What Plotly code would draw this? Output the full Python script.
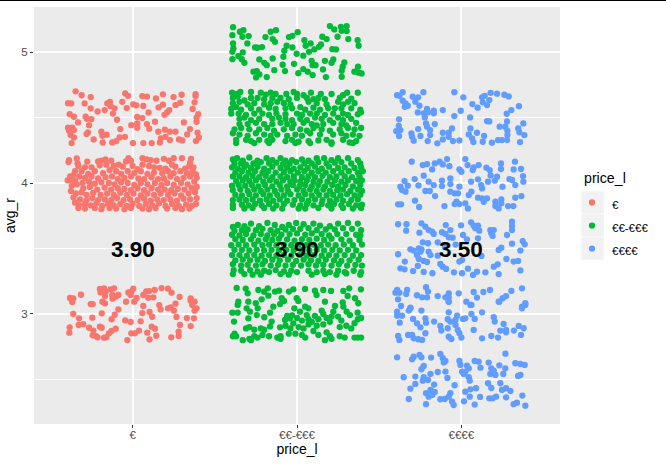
import plotly.graph_objects as go

# Jittered restaurant ratings, as (price level position, average rating) pairs, per rating band.
budget_50 = [(.653,4.70),(.69,4.67),(.745,4.656),(.607,4.61),(.627,4.608),(.708,4.608),(.745,4.57),(.787,4.547),(.83,4.557),(.846,4.608),(.862,4.62),(.866,4.587),(.88,4.53),(.89,4.57),(.937,4.62),(.955,4.684),(.972,4.666),(.964,4.572),(1.004,4.6),(1.022,4.593),(1.059,4.664),(1.087,4.659),(1.065,4.588),(1.097,4.539),(1.142,4.646),(1.184,4.677),(1.249,4.656),(1.298,4.674),(1.383,4.679),(1.383,4.664),(1.377,4.616),(1.29,4.613),(1.261,4.595),(1.184,4.598),(1.158,4.577),(1.223,4.557),(1.21,4.539),(1.194,4.521),(1.365,4.565),(1.399,4.526),(1.389,4.5),(1.389,4.468),(1.312,4.463),(1.136,4.468),(1.059,4.496),(1.028,4.504),(.992,4.442),(1.028,4.455),(1.028,4.422),(1.087,4.45),(1.101,4.415),(.905,4.483),(.617,4.526),(.643,4.506),(.668,4.463),(.714,4.506),(.749,4.488),(.722,4.49),(.735,4.442),(.607,4.422),(.633,4.422),(.613,4.399),(.643,4.404),(.623,4.366),(.643,4.348),(.629,4.305),(.72,4.374),(.728,4.386),(.763,4.333),(.81,4.392),(.842,4.369),(.816,4.36),(.818,4.31),(.876,4.31),(.9,4.32),(.921,4.348),(.953,4.353),(.925,4.412),(1.002,4.305),(1.065,4.305),(1.116,4.305),(1.166,4.31),(1.172,4.341),(1.156,4.392),(1.196,4.407),(1.227,4.392),(1.261,4.392),(1.2,4.353),(1.227,4.328),(1.282,4.333),(1.302,4.325),(1.332,4.371),(1.349,4.412),(1.395,4.384),(1.403,4.348),(1.385,4.32)]
budget_40 = [(.613,4.175),(.61,4.16),(.66,4.188),(.665,4.15),(.724,4.163),(.79,4.165),(.81,4.17),(.835,4.18),(.87,4.17),(.96,4.165),(.975,4.19),(.99,4.17),(1.06,4.19),(1.085,4.18),(1.11,4.175),(1.145,4.17),(1.19,4.185),(1.22,4.17),(1.25,4.19),(1.3,4.19),(1.355,4.185),(1.35,4.155),(.67,4.13),(.71,4.12),(.75,4.12),(.8,4.135),(.84,4.14),(.885,4.13),(.915,4.14),(.94,4.125),(1.0,4.13),(1.03,4.105),(1.06,4.14),(1.1,4.13),(1.13,4.12),(1.165,4.115),(1.2,4.11),(1.24,4.14),(1.26,4.125),(1.32,4.11),(1.345,4.13),(1.37,4.12),(.65,4.09),(.69,4.09),(.73,4.07),(.77,4.09),(.82,4.075),(.86,4.1),(.9,4.09),(.93,4.07),(.97,4.09),(1.01,4.075),(1.05,4.09),(1.09,4.07),(1.13,4.08),(1.18,4.075),(1.215,4.09),(1.25,4.075),(1.29,4.09),(1.33,4.075),(1.365,4.09),(1.385,4.065),(.62,4.05),(.64,4.06),(.675,4.05),(.71,4.04),(.75,4.05),(.79,4.035),(.835,4.045),(.875,4.05),(.91,4.03),(.95,4.04),(.99,4.05),(1.035,4.035),(1.07,4.03),(1.115,4.045),(1.155,4.03),(1.19,4.035),(1.23,4.05),(1.27,4.03),(1.31,4.04),(1.35,4.05),(1.39,4.04),(.605,4.02),(.625,4.025),(.65,4.015),(.695,4.0),(.735,4.01),(.77,3.995),(.81,4.005),(.855,4.0),(.89,3.99),(.93,4.005),(.97,4.0),(1.01,3.985),(1.05,4.0),(1.09,3.99),(1.135,4.0),(1.175,3.985),(1.21,4.0),(1.25,3.985),(1.295,4.0),(1.335,3.99),(1.375,4.01),(.63,3.98),(.66,3.99),(.7,3.96),(.74,3.97),(.785,3.95),(.83,3.965),(.87,3.95),(.91,3.96),(.95,3.955),(.99,3.945),(1.03,3.96),(1.07,3.945),(1.115,3.96),(1.155,3.95),(1.195,3.95),(1.235,3.945),(1.275,3.955),(1.315,3.95),(1.36,3.96),(1.39,3.97),(.625,3.94),(.655,3.92),(.69,3.93),(.72,3.91),(.76,3.925),(.805,3.91),(.845,3.92),(.885,3.91),(.925,3.925),(.965,3.91),(1.005,3.92),(1.05,3.905),(1.09,3.92),(1.13,3.91),(1.17,3.92),(1.215,3.91),(1.255,3.92),(1.295,3.905),(1.34,3.92),(1.38,3.93),(.64,3.89),(.68,3.875),(.72,3.87),(.755,3.885),(.79,3.87),(.83,3.875),(.87,3.87),(.905,3.885),(.945,3.87),(.985,3.875),(1.03,3.87),(1.07,3.88),(1.11,3.865),(1.15,3.875),(1.19,3.87),(1.23,3.875),(1.27,3.865),(1.31,3.88),(1.35,3.875),(1.39,3.885),(.65,3.85),(.675,3.83),(.71,3.84),(.745,3.83),(.78,3.845),(.815,3.825),(.85,3.84),(.885,3.83),(.925,3.84),(.965,3.825),(1.0,3.84),(1.04,3.825),(1.08,3.84),(1.12,3.83),(1.16,3.845),(1.2,3.825),(1.24,3.84),(1.28,3.825),(1.325,3.835),(1.36,3.825),(1.385,3.84),(.67,3.81),(.71,3.805),(.77,3.81),(.81,3.80),(.86,3.81),(.9,3.805),(.95,3.80),(.99,3.81),(1.06,3.805),(1.1,3.80),(1.14,3.81),(1.21,3.805),(1.26,3.81),(1.3,3.80),(1.345,3.805)]
budget_30 = [(.619,3.122),(.639,3.119),(.633,3.091),(.686,3.147),(.745,3.076),(.757,3.076),(.816,3.094),(.832,3.081),(.801,3.191),(.826,3.196),(.805,3.165),(.836,3.17),(.832,3.137),(.866,3.188),(.887,3.196),(.876,3.145),(.878,3.117),(.913,3.145),(.897,3.132),(.974,3.165),(1.004,3.193),(.992,3.17),(.988,3.145),(1.024,3.122),(.96,3.094),(1.01,3.094),(1.065,3.145),(1.083,3.173),(1.101,3.175),(1.134,3.183),(1.176,3.198),(1.215,3.193),(1.237,3.163),(1.095,3.124),(1.126,3.127),(1.286,3.13),(1.261,3.079),(1.353,3.119),(1.353,3.102),(1.377,3.094),(1.363,3.068),(1.389,3.043),(1.377,3.025),(1.162,3.068),(1.17,3.035),(1.215,3.043),(1.231,3.051),(1.251,3.025),(1.065,3.061),(1.059,3.007),(1.103,3.015),(1.119,2.979),(1.267,2.977),(1.33,2.969),(1.373,2.967),(1.288,2.916),(1.353,2.908),(.913,3.035),(.891,2.995),(.872,2.959),(.812,3.005),(.755,2.972),(.639,3.0),(.674,2.967),(.672,2.916),(.7,2.923),(.617,2.898),(.615,2.857),(.735,2.895),(.801,2.903),(.812,2.895),(.761,2.873),(.757,2.837),(.775,2.832),(.787,2.822),(.826,2.819),(.84,2.822),(.856,2.852),(.872,2.87),(.897,2.888),(.955,2.951),(.988,2.939),(1.049,2.944),(1.116,2.903),(1.136,2.888),(1.039,2.873),(1.014,2.852),(.992,2.852),(.968,2.801),(1.089,2.857),(1.103,2.806),(1.144,2.834),(1.235,2.822),(1.28,2.865),(1.28,2.832)]

mid_50 = [(1.611,5.19),(1.674,5.167),(1.653,5.155),(1.668,5.117),(1.706,5.122),(1.607,5.129),(1.611,5.066),(1.698,5.066),(1.613,5.028),(1.607,5.002),(1.67,4.997),(1.643,4.969),(1.607,4.946),(1.664,4.946),(1.68,4.918),(1.745,5.035),(1.759,5.033),(1.787,5.038),(1.808,5.114),(1.84,5.155),(1.872,5.167),(1.852,5.099),(1.866,5.078),(1.951,5.114),(1.972,5.124),(2.004,5.152),(1.937,5.048),(1.972,5.035),(1.923,5.01),(1.917,4.964),(1.771,4.944),(1.801,4.918),(1.816,4.9),(1.852,4.951),(1.862,4.862),(1.735,4.85),(1.755,4.855),(1.771,4.829),(1.751,4.806),(1.816,4.809),(1.913,4.903),(1.927,4.855),(1.982,4.91),(1.998,4.987),(2.038,4.972),(2.073,5.002),(2.105,5.02),(2.045,5.091),(2.083,5.066),(2.053,5.048),(2.134,5.04),(2.146,5.058),(2.154,5.117),(2.18,5.099),(2.2,5.198),(2.227,5.173),(2.267,5.193),(2.302,5.198),(2.272,5.162),(2.302,5.16),(2.247,5.117),(2.312,5.099),(2.369,5.091),(2.375,5.048),(2.215,5.022),(2.237,5.02),(2.17,4.933),(2.221,4.944),(2.21,4.918),(2.089,4.933),(2.095,4.9),(2.113,4.9),(2.158,4.867),(2.008,4.839),(2.038,4.87),(2.065,4.85),(2.095,4.824),(2.176,4.809),(2.272,4.811),(2.272,4.857),(2.288,4.921),(2.278,4.888),(2.371,4.888),(2.349,4.85),(2.373,4.844),(2.393,4.837)]
mid_45 = [(1.605,4.69),(1.63,4.68),(1.655,4.695),(1.72,4.695),(1.78,4.69),(1.81,4.675),(1.84,4.69),(1.87,4.68),(1.935,4.68),(1.98,4.695),(2.0,4.68),(2.04,4.67),(2.085,4.69),(2.145,4.68),(2.21,4.68),(2.305,4.69),(2.37,4.69),(1.61,4.65),(1.64,4.66),(1.68,4.63),(1.72,4.65),(1.76,4.65),(1.8,4.64),(1.85,4.65),(1.9,4.65),(1.95,4.64),(2.0,4.65),(2.06,4.65),(2.1,4.64),(2.13,4.65),(2.17,4.64),(2.26,4.65),(2.28,4.67),(2.33,4.645),(1.61,4.61),(1.65,4.62),(1.7,4.6),(1.74,4.61),(1.8,4.6),(1.84,4.61),(1.88,4.62),(1.92,4.61),(1.96,4.6),(2.07,4.62),(2.12,4.61),(2.18,4.6),(2.25,4.62),(2.28,4.6),(2.31,4.62),(2.35,4.61),(1.6,4.565),(1.63,4.58),(1.66,4.56),(1.72,4.57),(1.77,4.56),(1.83,4.575),(1.87,4.565),(1.93,4.57),(1.97,4.57),(2.02,4.58),(2.05,4.56),(2.1,4.575),(2.14,4.56),(2.19,4.57),(2.23,4.57),(2.27,4.57),(2.33,4.57),(2.385,4.56),(1.6,4.53),(1.645,4.53),(1.69,4.52),(1.74,4.53),(1.79,4.53),(1.83,4.52),(1.875,4.53),(1.93,4.525),(2.0,4.53),(2.03,4.52),(2.08,4.53),(2.12,4.53),(2.17,4.52),(2.22,4.53),(2.28,4.53),(2.31,4.52),(2.37,4.525),(2.39,4.54),(1.65,4.49),(1.68,4.5),(1.72,4.48),(1.77,4.49),(1.85,4.49),(1.89,4.5),(1.93,4.49),(1.97,4.48),(2.02,4.49),(2.06,4.48),(2.11,4.5),(2.15,4.49),(2.2,4.48),(2.25,4.5),(2.28,4.48),(2.33,4.49),(1.65,4.45),(1.7,4.45),(1.75,4.46),(1.8,4.45),(1.85,4.45),(1.9,4.46),(1.94,4.45),(1.98,4.45),(2.04,4.46),(2.09,4.45),(2.12,4.44),(2.16,4.45),(2.22,4.46),(2.27,4.45),(2.3,4.44),(2.36,4.46),(1.62,4.41),(1.66,4.42),(1.71,4.41),(1.77,4.41),(1.82,4.42),(1.86,4.4),(1.92,4.41),(1.97,4.42),(2.02,4.41),(2.06,4.4),(2.1,4.42),(2.15,4.41),(2.2,4.4),(2.26,4.41),(2.31,4.42),(2.35,4.41),(2.39,4.42),(1.61,4.38),(1.65,4.37),(1.7,4.36),(1.75,4.38),(1.8,4.37),(1.84,4.36),(1.88,4.37),(1.94,4.36),(1.99,4.37),(2.03,4.36),(2.08,4.38),(2.14,4.37),(2.22,4.37),(2.27,4.38),(2.3,4.36),(2.34,4.37),(2.38,4.36),(1.63,4.33),(1.69,4.33),(1.72,4.32),(1.77,4.33),(1.82,4.32),(1.85,4.33),(1.93,4.32),(1.97,4.33),(2.01,4.315),(2.07,4.32),(2.13,4.325),(2.18,4.33),(2.21,4.31),(2.28,4.33),(2.32,4.31),(2.36,4.32),(1.63,4.305),(1.74,4.305),(1.83,4.305),(1.99,4.305),(2.08,4.305),(2.21,4.30),(2.34,4.305)]
mid_40 = [(1.61,4.18),(1.635,4.19),(1.67,4.17),(1.71,4.195),(1.76,4.17),(1.815,4.19),(1.85,4.175),(1.9,4.19),(1.93,4.17),(1.97,4.175),(2.03,4.18),(2.07,4.17),(2.12,4.19),(2.165,4.19),(2.21,4.175),(2.25,4.19),(2.31,4.19),(2.37,4.175),(1.62,4.15),(1.66,4.15),(1.69,4.14),(1.735,4.15),(1.78,4.16),(1.83,4.15),(1.875,4.155),(1.915,4.145),(1.955,4.15),(1.995,4.16),(2.045,4.15),(2.09,4.15),(2.13,4.16),(2.18,4.15),(2.23,4.155),(2.27,4.16),(2.33,4.15),(2.385,4.15),(1.605,4.12),(1.64,4.11),(1.68,4.12),(1.72,4.115),(1.76,4.125),(1.8,4.11),(1.85,4.125),(1.9,4.115),(1.94,4.12),(1.98,4.11),(2.02,4.12),(2.065,4.115),(2.11,4.125),(2.15,4.11),(2.195,4.125),(2.25,4.115),(2.29,4.12),(2.35,4.115),(2.39,4.12),(1.625,4.08),(1.665,4.09),(1.705,4.08),(1.745,4.09),(1.79,4.08),(1.825,4.09),(1.87,4.08),(1.92,4.085),(1.96,4.09),(2.005,4.08),(2.045,4.09),(2.09,4.08),(2.13,4.09),(2.175,4.08),(2.22,4.09),(2.27,4.08),(2.315,4.09),(2.37,4.08),(2.4,4.09),(1.61,4.05),(1.65,4.05),(1.69,4.045),(1.73,4.055),(1.77,4.045),(1.81,4.055),(1.85,4.045),(1.9,4.05),(1.94,4.045),(1.98,4.05),(2.03,4.045),(2.07,4.05),(2.11,4.045),(2.155,4.055),(2.2,4.045),(2.24,4.05),(2.29,4.05),(2.335,4.045),(2.38,4.05),(1.63,4.015),(1.67,4.02),(1.71,4.015),(1.75,4.02),(1.795,4.01),(1.835,4.02),(1.875,4.01),(1.915,4.02),(1.96,4.01),(1.985,4.02),(2.02,4.01),(2.06,4.02),(2.1,4.01),(2.14,4.015),(2.185,4.01),(2.23,4.02),(2.27,4.01),(2.31,4.02),(2.36,4.015),(2.395,4.02),(1.605,3.98),(1.645,3.985),(1.685,3.98),(1.725,3.985),(1.765,3.975),(1.805,3.985),(1.85,3.975),(1.895,3.985),(1.94,3.975),(1.975,3.985),(2.015,3.975),(2.05,3.985),(2.09,3.975),(2.13,3.985),(2.17,3.975),(2.215,3.985),(2.25,3.975),(2.295,3.985),(2.34,3.975),(2.385,3.985),(1.61,3.945),(1.655,3.95),(1.7,3.94),(1.74,3.95),(1.78,3.94),(1.82,3.95),(1.865,3.94),(1.905,3.95),(1.945,3.94),(2.0,3.95),(2.04,3.94),(2.08,3.95),(2.12,3.94),(2.16,3.95),(2.2,3.94),(2.245,3.945),(2.28,3.95),(2.325,3.94),(2.37,3.95),(2.395,3.94),(1.625,3.91),(1.665,3.905),(1.71,3.915),(1.75,3.905),(1.795,3.915),(1.835,3.905),(1.88,3.91),(1.92,3.905),(1.96,3.915),(2.01,3.905),(2.05,3.915),(2.09,3.905),(2.135,3.91),(2.18,3.905),(2.22,3.91),(2.265,3.905),(2.305,3.915),(2.35,3.905),(2.385,3.91),(1.61,3.87),(1.65,3.875),(1.69,3.87),(1.73,3.875),(1.775,3.865),(1.815,3.875),(1.855,3.865),(1.895,3.875),(1.94,3.865),(1.985,3.87),(2.03,3.875),(2.07,3.865),(2.11,3.875),(2.155,3.87),(2.2,3.865),(2.24,3.875),(2.28,3.865),(2.33,3.87),(2.37,3.875),(1.61,3.835),(1.665,3.835),(1.705,3.83),(1.745,3.84),(1.785,3.83),(1.83,3.84),(1.875,3.83),(1.92,3.84),(1.975,3.835),(2.02,3.83),(2.06,3.84),(2.1,3.83),(2.15,3.84),(2.19,3.83),(2.225,3.84),(2.27,3.83),(2.315,3.84),(2.36,3.83),(2.395,3.835),(1.61,3.81),(1.68,3.805),(1.73,3.81),(1.8,3.81),(1.855,3.805),(1.91,3.805),(2.01,3.805),(2.05,3.805),(2.13,3.81),(2.21,3.805),(2.28,3.81),(2.34,3.805),(2.39,3.81)]
mid_35 = [(1.61,3.665),(1.64,3.68),(1.68,3.67),(1.72,3.69),(1.77,3.67),(1.82,3.695),(1.865,3.68),(1.91,3.665),(1.95,3.68),(1.995,3.695),(2.04,3.685),(2.1,3.69),(2.14,3.675),(2.2,3.67),(2.25,3.69),(2.31,3.695),(2.37,3.69),(1.62,3.635),(1.665,3.64),(1.7,3.645),(1.75,3.64),(1.79,3.65),(1.84,3.64),(1.88,3.635),(1.93,3.645),(1.975,3.65),(2.02,3.65),(2.07,3.655),(2.12,3.64),(2.175,3.645),(2.23,3.645),(2.28,3.655),(2.335,3.65),(2.39,3.64),(1.605,3.605),(1.65,3.6),(1.69,3.61),(1.735,3.6),(1.78,3.61),(1.82,3.6),(1.86,3.61),(1.905,3.605),(1.955,3.61),(2.0,3.615),(2.05,3.605),(2.09,3.615),(2.15,3.61),(2.195,3.6),(2.245,3.61),(2.3,3.61),(2.36,3.605),(2.385,3.6),(1.625,3.57),(1.67,3.565),(1.72,3.57),(1.765,3.56),(1.81,3.57),(1.85,3.565),(1.89,3.575),(1.94,3.57),(1.985,3.56),(2.03,3.57),(2.075,3.565),(2.12,3.575),(2.165,3.565),(2.21,3.575),(2.27,3.57),(2.32,3.56),(2.38,3.565),(1.6,3.525),(1.645,3.53),(1.69,3.525),(1.74,3.53),(1.79,3.525),(1.83,3.53),(1.875,3.525),(1.92,3.53),(1.965,3.525),(2.01,3.53),(2.055,3.525),(2.1,3.53),(2.145,3.525),(2.19,3.53),(2.235,3.525),(2.285,3.53),(2.34,3.525),(2.395,3.53),(1.62,3.49),(1.665,3.49),(1.71,3.485),(1.755,3.49),(1.8,3.485),(1.845,3.49),(1.89,3.485),(1.935,3.49),(1.98,3.485),(2.03,3.49),(2.075,3.485),(2.12,3.49),(2.165,3.485),(2.215,3.49),(2.26,3.485),(2.31,3.49),(2.36,3.485),(1.605,3.45),(1.65,3.45),(1.695,3.445),(1.74,3.45),(1.785,3.445),(1.83,3.45),(1.875,3.445),(1.92,3.45),(1.965,3.445),(2.015,3.45),(2.06,3.445),(2.105,3.45),(2.15,3.445),(2.195,3.45),(2.24,3.445),(2.29,3.45),(2.34,3.445),(2.39,3.45),(1.625,3.41),(1.67,3.415),(1.715,3.41),(1.76,3.415),(1.805,3.405),(1.85,3.415),(1.895,3.41),(1.945,3.415),(1.995,3.405),(2.04,3.415),(2.085,3.41),(2.13,3.405),(2.175,3.415),(2.225,3.41),(2.27,3.405),(2.32,3.41),(2.375,3.415),(1.61,3.38),(1.66,3.37),(1.7,3.375),(1.75,3.37),(1.79,3.38),(1.84,3.37),(1.885,3.375),(1.93,3.37),(1.975,3.375),(2.025,3.37),(2.07,3.38),(2.115,3.37),(2.16,3.375),(2.21,3.37),(2.255,3.38),(2.305,3.37),(2.355,3.375),(2.395,3.37),(1.615,3.335),(1.66,3.33),(1.715,3.335),(1.76,3.325),(1.8,3.33),(1.83,3.32),(1.87,3.335),(1.92,3.325),(1.965,3.33),(2.0,3.32),(2.07,3.33),(2.12,3.32),(2.16,3.33),(2.2,3.32),(2.25,3.33),(2.29,3.32),(2.345,3.33),(2.39,3.32),(1.61,3.305),(1.68,3.305),(1.73,3.30),(1.78,3.30),(1.9,3.305),(1.95,3.30),(2.09,3.30),(2.17,3.305),(2.24,3.30),(2.3,3.31),(2.385,3.30)]
mid_30 = [(1.633,3.199),(1.688,3.194),(1.7,3.158),(1.765,3.183),(1.822,3.196),(1.8,3.17),(1.891,3.178),(1.866,3.171),(1.826,3.14),(1.785,3.112),(1.978,3.188),(1.951,3.171),(2.049,3.191),(2.109,3.178),(2.119,3.145),(2.16,3.183),(2.207,3.176),(2.17,3.094),(2.282,3.176),(2.318,3.196),(2.389,3.188),(2.308,3.138),(2.353,3.12),(2.373,3.082),(2.278,3.089),(1.643,3.094),(1.639,3.069),(1.704,3.094),(1.749,3.082),(1.694,3.043),(1.607,3.01),(1.639,3.01),(1.714,3.018),(1.761,3.043),(1.755,2.992),(1.704,2.967),(1.617,2.942),(1.801,2.975),(1.856,3.056),(1.836,3.01),(1.907,3.12),(1.921,3.099),(1.897,3.076),(1.998,3.12),(2.008,3.099),(1.984,3.043),(2.049,3.056),(2.069,3.043),(2.018,3.018),(2.15,3.025),(2.16,3.0),(2.231,3.061),(2.282,3.056),(2.221,3.018),(2.302,3.018),(2.322,2.992),(2.369,3.01),(2.059,2.992),(2.109,2.985),(1.957,2.967),(1.927,2.954),(1.978,2.929),(1.846,2.942),(1.836,2.905),(1.897,2.898),(1.94,2.985),(1.97,2.99),(2.0,2.97),(2.03,2.95),(2.07,2.96),(2.09,2.94),(2.13,2.96),(2.18,2.97),(2.21,2.98),(2.25,2.98),(2.27,2.95),(2.2,2.94),(2.16,2.92),(2.12,2.91),(2.07,2.92),(2.04,2.89),(2.01,2.9),(1.96,2.89),(1.93,2.91),(2.3,2.91),(2.26,2.9),(2.37,2.96),(2.39,2.97),(2.35,2.93),(2.33,2.89),(1.69,2.89),(1.71,2.9),(1.74,2.88),(1.78,2.89),(1.8,2.88),(1.62,2.85),(1.61,2.83),(1.63,2.83),(1.67,2.80),(1.71,2.81),(1.74,2.83),(1.76,2.82),(1.79,2.84),(1.83,2.83),(1.88,2.82),(1.9,2.83),(1.95,2.85),(1.99,2.85),(2.03,2.84),(2.05,2.82),(2.1,2.87),(2.13,2.84),(2.18,2.86),(2.2,2.83),(2.21,2.81),(2.26,2.83),(2.29,2.82),(2.35,2.82),(2.37,2.82),(2.39,2.82),(2.17,2.8),(1.72,2.8),(1.9,2.81)]

luxury_45 = [(2.609,4.671),(2.623,4.666),(2.643,4.694),(2.643,4.628),(2.66,4.608),(2.656,4.582),(2.674,4.59),(2.704,4.659),(2.737,4.654),(2.72,4.621),(2.745,4.59),(2.769,4.694),(2.735,4.539),(2.771,4.532),(2.791,4.565),(2.797,4.54),(2.777,4.501),(2.832,4.552),(2.832,4.532),(2.887,4.557),(2.957,4.694),(3.012,4.654),(2.996,4.552),(2.957,4.511),(3.053,4.501),(3.067,4.603),(3.099,4.575),(3.126,4.654),(3.142,4.666),(3.13,4.616),(3.156,4.595),(3.17,4.633),(3.178,4.689),(3.217,4.682),(3.261,4.674),(3.288,4.661),(3.35,4.587),(3.304,4.557),(3.276,4.529),(2.621,4.486),(2.619,4.437),(2.603,4.397),(2.629,4.404),(2.621,4.359),(2.696,4.379),(2.7,4.353),(2.71,4.323),(2.737,4.412),(2.751,4.359),(2.785,4.455),(2.791,4.43),(2.838,4.45),(2.81,4.404),(2.81,4.366),(2.795,4.32),(2.854,4.303),(2.887,4.333),(2.887,4.384),(2.923,4.384),(2.943,4.417),(2.923,4.353),(2.949,4.32),(2.988,4.325),(3.055,4.417),(3.045,4.371),(3.065,4.341),(3.073,4.313),(3.095,4.384),(3.138,4.359),(3.13,4.315),(3.156,4.473),(3.17,4.47),(3.186,4.308),(3.223,4.328),(3.247,4.328),(3.233,4.43),(3.278,4.47),(3.267,4.43),(3.28,4.399),(3.28,4.366),(3.278,4.328),(3.377,4.455),(3.346,4.417),(3.353,4.387),(3.383,4.366),(3.357,4.313)]
luxury_40 = [(2.698,4.163),(2.765,4.137),(2.791,4.145),(2.822,4.104),(2.838,4.15),(2.868,4.163),(2.887,4.142),(2.913,4.183),(2.927,4.129),(2.988,4.104),(3.0,4.086),(3.024,4.183),(3.038,4.137),(3.075,4.119),(3.069,4.099),(3.105,4.137),(3.152,4.117),(3.172,4.099),(3.241,4.15),(3.241,4.107),(3.326,4.163),(3.318,4.104),(3.363,4.107),(3.375,4.053),(3.377,4.01),(3.328,3.984),(2.771,4.056),(2.716,4.03),(2.654,4.015),(2.674,3.979),(2.629,3.972),(2.639,3.946),(2.66,3.934),(2.739,3.982),(2.801,4.01),(2.832,3.984),(2.882,4.018),(2.882,3.977),(2.933,4.035),(2.933,3.992),(2.781,3.939),(2.808,3.939),(2.84,3.9),(2.933,3.934),(2.959,3.921),(2.988,3.972),(2.98,3.921),(2.97,3.857),(2.959,3.839),(2.988,3.839),(3.024,3.845),(3.04,3.806),(3.059,4.01),(3.101,4.028),(3.061,3.934),(3.045,3.908),(3.12,3.984),(3.126,3.959),(3.162,4.01),(3.178,4.058),(3.217,4.048),(3.203,4.018),(3.25,3.972),(3.292,4.03),(3.308,4.023),(3.101,3.888),(3.126,3.883),(3.156,3.883),(3.136,3.857),(3.207,3.857),(3.243,3.875),(3.243,3.845),(3.207,3.824),(3.227,3.806),(3.284,3.824),(3.316,3.824),(3.328,3.888),(3.365,3.9),(2.718,3.865),(2.615,3.837),(2.633,3.837),(2.743,3.817),(2.897,3.824)]
luxury_35 = [(2.615,3.685),(2.666,3.685),(2.664,3.636),(2.745,3.621),(2.757,3.692),(2.781,3.667),(2.801,3.641),(2.822,3.629),(2.832,3.611),(2.905,3.679),(2.933,3.641),(2.882,3.624),(2.903,3.611),(2.923,3.585),(2.947,3.583),(2.998,3.677),(3.059,3.7),(3.075,3.674),(3.101,3.674),(3.085,3.654),(3.109,3.636),(3.01,3.603),(3.034,3.57),(3.101,3.578),(3.176,3.641),(3.197,3.641),(3.182,3.616),(3.19,3.596),(3.308,3.705),(3.308,3.672),(3.308,3.641),(3.278,3.603),(3.308,3.537),(3.373,3.557),(3.385,3.532),(3.359,3.484),(3.243,3.506),(3.227,3.489),(2.765,3.547),(2.797,3.54),(2.856,3.547),(2.741,3.501),(2.69,3.494),(2.71,3.484),(2.757,3.494),(2.615,3.456),(2.73,3.45),(2.751,3.476),(2.801,3.476),(2.812,3.45),(2.856,3.445),(2.741,3.42),(2.771,3.405),(2.791,3.397),(2.656,3.4),(2.629,3.349),(2.654,3.341),(2.706,3.328),(2.735,3.367),(2.771,3.321),(2.824,3.311),(2.872,3.382),(2.886,3.361),(2.907,3.344),(2.955,3.318),(3.004,3.311),(3.04,3.346),(3.071,3.298),(3.095,3.323),(3.146,3.318),(3.227,3.305),(3.359,3.333),(3.197,3.361),(3.221,3.379),(3.274,3.42),(3.318,3.4),(3.345,3.405),(3.004,3.412),(2.988,3.4),(3.122,3.443),(2.9,3.51),(2.965,3.53)]
luxury_30 = [(2.609,3.183),(2.599,3.163),(2.623,3.163),(2.67,3.183),(2.664,3.153),(2.615,3.112),(2.785,3.204),(2.797,3.171),(2.73,3.143),(2.761,3.127),(2.791,3.127),(2.856,3.137),(2.923,3.158),(2.903,3.127),(2.923,3.127),(2.923,3.094),(2.984,3.158),(3.03,3.094),(3.075,3.168),(3.095,3.125),(3.055,3.069),(3.134,3.168),(3.174,3.183),(3.304,3.176),(3.272,3.137),(3.251,3.12),(3.227,3.094),(3.369,3.196),(2.633,3.061),(2.69,3.048),(3.389,3.082),(3.369,3.056),(2.609,3.018),(2.609,2.987),(2.639,2.987),(2.625,2.934),(2.68,3.026),(2.69,3.043),(2.706,2.962),(2.73,2.929),(2.751,2.898),(2.757,3.026),(2.781,2.967),(2.785,2.934),(2.834,2.942),(2.872,2.909),(2.878,2.873),(2.917,2.891),(2.923,3.013),(2.917,2.96),(2.933,2.942),(2.974,2.987),(2.964,2.954),(2.964,2.916),(2.978,2.878),(2.988,2.853),(3.0,2.82),(3.01,2.962),(3.024,2.967),(3.081,2.962),(3.061,3.0),(3.126,3.013),(3.075,2.878),(3.126,2.814),(3.182,2.832),(3.223,2.82),(3.197,2.975),(3.203,2.942),(3.257,2.924),(3.237,2.873),(3.272,2.878),(3.272,2.86),(3.32,2.873),(3.349,2.909),(3.379,2.891),(3.363,2.84),(2.615,2.832),(2.623,2.802),(2.676,2.84),(2.7,2.84),(2.71,2.814),(2.737,2.807),(2.761,2.802),(2.781,2.853),(2.923,2.827),(2.939,2.809),(3.369,3.043),(3.389,3.069),(3.231,3.094),(3.061,3.069),(2.923,3.094)]
luxury_25 = [(2.609,2.669),(2.7,2.654),(2.71,2.674),(2.745,2.687),(2.757,2.669),(2.816,2.667),(2.872,2.695),(2.887,2.662),(2.903,2.641),(2.893,2.63),(2.771,2.603),(2.757,2.578),(2.812,2.542),(2.856,2.557),(2.903,2.56),(2.915,2.512),(2.649,2.517),(2.72,2.522),(2.771,2.517),(2.765,2.491),(2.797,2.496),(2.72,2.466),(2.69,2.43),(2.834,2.461),(2.959,2.456),(2.812,2.42),(2.838,2.405),(2.785,2.395),(2.801,2.369),(2.822,2.382),(2.68,2.351),(2.785,2.311),(2.872,2.349),(2.899,2.351),(2.933,2.395),(2.923,2.369),(2.943,2.331),(2.953,2.305),(3.016,2.333),(3.024,2.407),(3.055,2.425),(3.089,2.433),(3.051,2.369),(3.114,2.367),(3.081,2.308),(2.988,2.641),(2.994,2.611),(3.034,2.606),(3.045,2.585),(3.004,2.56),(3.024,2.56),(3.014,2.542),(3.045,2.517),(3.051,2.491),(3.081,2.641),(3.105,2.636),(3.116,2.59),(3.166,2.629),(3.231,2.608),(3.268,2.697),(3.328,2.624),(3.359,2.618),(3.385,2.611),(3.267,2.585),(3.255,2.542),(3.182,2.585),(3.197,2.567),(3.176,2.542),(3.207,2.535),(3.345,2.527),(3.359,2.534),(3.162,2.471),(3.182,2.435),(3.237,2.471),(3.247,2.42),(3.272,2.433),(3.298,2.412),(3.272,2.364),(3.17,2.356),(3.19,2.356),(3.211,2.369),(3.371,2.377),(3.338,2.323),(3.318,2.311),(3.389,2.3)]

price_levels = ["€", "€€-€€€", "€€€€"]
price_positions = [1, 2, 3]
mean_ratings = [3.90, 3.90, 3.50]
mean_label_y = 3.5
series_colours = ["#F8766D", "#00BA38", "#619CFF"]

budget = budget_50 + budget_40 + budget_30
mid = mid_50 + mid_45 + mid_40 + mid_35 + mid_30
luxury = luxury_45 + luxury_40 + luxury_35 + luxury_30 + luxury_25

fig = go.Figure()
for points, name, colour in zip((budget, mid, luxury), price_levels, series_colours):
    fig.add_trace(go.Scatter(
        x=[p[0] for p in points], y=[p[1] for p in points],
        mode="markers",
        # A tall legend font spaces the rows; the span sets the visible label size.
        name=f'<span style="font-size:11.5px">{name}</span>',
        marker=dict(color=colour, size=6.3, line=dict(width=0)),
    ))

# Mean rating per price level, written over the points
mean_labels = [
    dict(x=pos, y=mean_label_y, xref="x", yref="y", text=f"<b>{v:.2f}</b>", showarrow=False,
         yshift=-1, font=dict(family="Liberation Sans", size=22.5, color="black"))
    for pos, v in zip(price_positions, mean_ratings)
]
legend_title = dict(
    x=(582 - 34) / 526, y=(424 - 178) / 417, xref="paper", yref="paper",
    xanchor="left", yanchor="middle", text="price_l", showarrow=False,
    font=dict(family="Liberation Sans", size=14.2, color="black"),
)

axis_common = dict(
    showline=False, zeroline=False, showgrid=True, gridcolor="white", gridwidth=1.7,
    ticks="outside", ticklen=3, tickwidth=1, tickcolor="#333333",
    tickfont=dict(family="Liberation Sans", size=11.5, color="#4D4D4D"),
    title_font=dict(family="Liberation Sans", size=14, color="black"),
)
fig.update_xaxes(
    **axis_common, range=[0.4, 3.6], tickvals=price_positions, ticktext=price_levels,
    title_text="price_l", title_standoff=3, ticklabelstandoff=-3,
)
fig.update_yaxes(
    **axis_common, range=[2.16, 5.344], tickvals=[3, 4, 5], ticktext=["3", "4", "5"],
    title_text="avg_r", title_standoff=2,
    minor=dict(tickvals=[2.5, 3.5, 4.5], showgrid=True, gridcolor="white", gridwidth=0.8, ticks=""),
)

# Grey squares behind the legend keys
key_shapes = [
    dict(type="rect", xref="paper", yref="paper",
         x0=(581 - 34) / 526, x1=(604 - 34) / 526,
         y0=(424 - top - 23) / 417, y1=(424 - top) / 417,
         fillcolor="#F2F2F2", line=dict(color="white", width=0.5), layer="below")
    for top in (191, 214, 237)
]
# Thin rule along the top edge of the page
top_rule = dict(type="line", xref="paper", yref="paper",
                x0=-34 / 526, x1=632 / 526, y0=423.5 / 417, y1=423.5 / 417,
                line=dict(color="black", width=1))

fig.update_layout(
    width=666, height=465, autosize=False,
    margin=dict(l=34, r=106, t=7, b=41),
    plot_bgcolor="#EBEBEB", paper_bgcolor="white",
    font=dict(family="Liberation Sans"),
    shapes=key_shapes + [top_rule],
    annotations=mean_labels + [legend_title],
    legend=dict(
        x=(572 - 34) / 526, y=(424 - 186) / 417, xanchor="left", yanchor="top",
        bgcolor="rgba(0,0,0,0)", itemwidth=30,
        font=dict(size=15.4, color="black"), tracegroupgap=0,
    ),
)

fig.write_html("out.html")
